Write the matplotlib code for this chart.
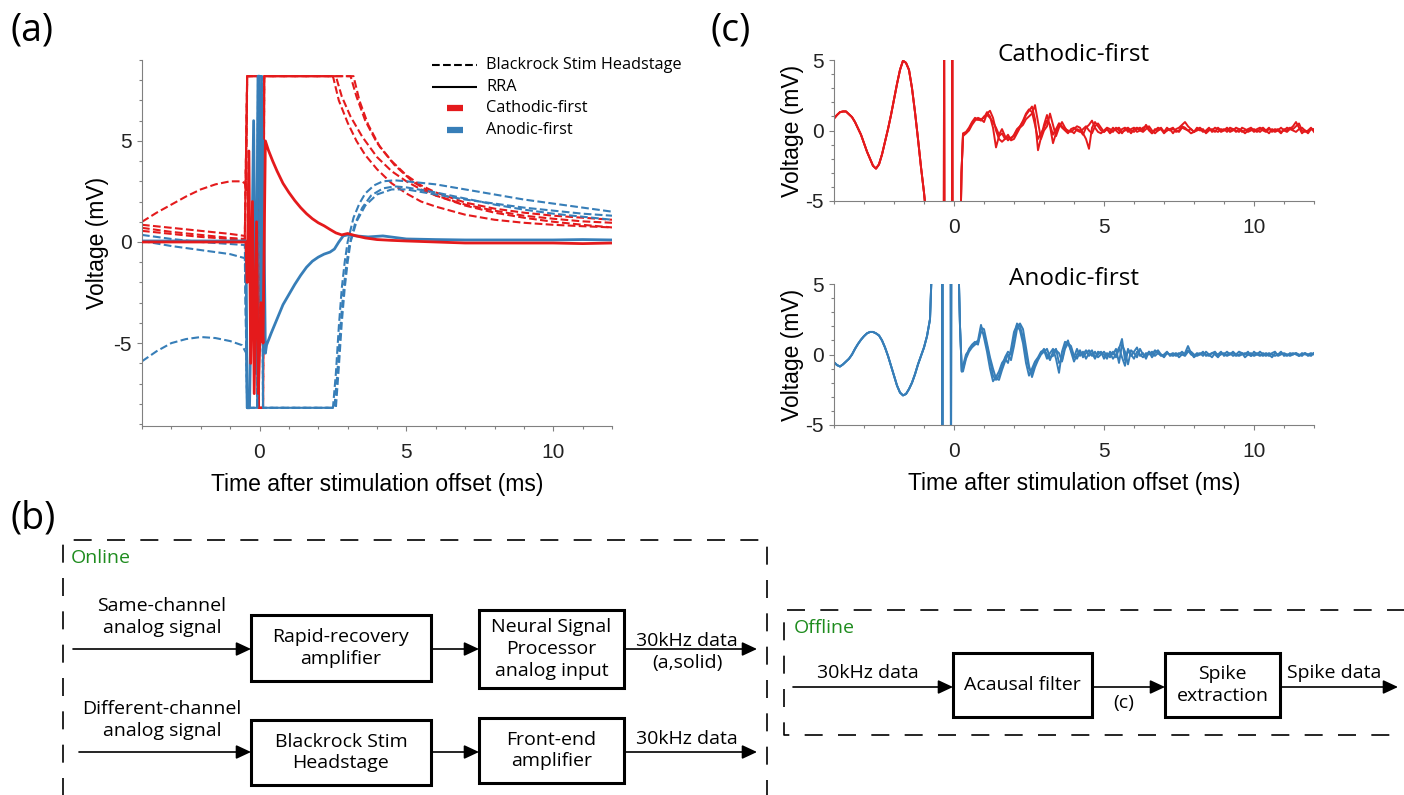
"""
Stimulation artifact recovery: RRA vs Blackrock headstage (a), processing chain (b),
acausal-filtered traces (c)
"""
import numpy as np
import matplotlib.pyplot as plt
from matplotlib.patches import Rectangle

plt.rcParams['font.family'] = ['Liberation Sans', 'DejaVu Sans']
plt.rcParams['axes.unicode_minus'] = False

RED = '#E41A1C'
BLUE = '#377EB8'
GREY = '#808080'
SIDE_FONT = ['Open Sans', 'DejaVu Sans']

# ---------------- (a) data, ms / mV ----------------
rra_cath_t = [-4.0, -0.46, -0.42, -0.36, -0.3, -0.24, -0.18, -0.1, -0.04, 0.05,
              0.12, 0.2, 0.3, 0.45, 0.6, 0.8, 1.0, 1.2, 1.4, 1.6,
              1.8, 2.0, 2.2, 2.4, 2.6, 2.8, 3.0, 3.1, 3.3, 3.6,
              4.0, 4.5, 5.0, 6.0, 7.0, 8.0, 9.0, 10.0, 11.0, 12.0]
rra_cath_v = [0.0, 0.0, -2.0, 4.5, -6.0, 2.0, -7.5, 1.0, -7.5, -3.0,
              -5.0, 5.0, 4.55, 4.0, 3.5, 2.9, 2.45, 2.05, 1.7, 1.4,
              1.15, 0.95, 0.8, 0.62, 0.45, 0.35, 0.42, 0.38, 0.3, 0.2,
              0.12, 0.08, 0.05, 0.0, -0.05, -0.05, -0.05, -0.05, -0.08, -0.05]
rra_anod_t = [-4.0, -0.46, -0.42, -0.34, -0.28, -0.2, -0.12, -0.05, 0.0, 0.05,
              0.12, 0.2, 0.24, 0.4, 0.6, 0.8, 1.0, 1.2, 1.4, 1.6,
              1.8, 2.0, 2.2, 2.4, 2.55, 2.7, 2.85, 3.0, 3.3, 3.7,
              4.2, 5.0, 6.0, 7.0, 8.0, 9.0, 10.0, 11.0, 12.0]
rra_anod_v = [0.05, 0.05, -8.2, -8.2, -3.0, 6.0, -6.5, 8.2, 8.2, -3.0,
              5.0, -5.5, -5.1, -4.5, -3.8, -3.1, -2.6, -2.1, -1.65, -1.25,
              -0.95, -0.75, -0.6, -0.5, -0.35, 0.0, 0.3, 0.35, 0.3, 0.25,
              0.3, 0.15, 0.12, 0.1, 0.1, 0.1, 0.1, 0.12, 0.1]

br_cath1_t = [-4.0, -3.5, -3.0, -2.5, -2.0, -1.5, -1.0, -0.6, -0.5, -0.45,
              -0.42, -0.05, -0.02, 0.12, 0.16, 2.5, 2.7, 3.0, 3.3, 3.6,
              4.0, 4.5, 5.0, 5.5, 6.0, 7.0, 8.0, 9.0, 10.0, 11.0, 12.0]
br_cath1_v = [1.0, 1.45, 1.85, 2.25, 2.6, 2.85, 3.0, 3.0, 2.9, 2.5,
              8.2, 8.2, -8.2, -8.2, 8.2, 8.2, 7.0, 5.9, 5.0, 4.3,
              3.6, 2.9, 2.4, 2.0, 1.75, 1.35, 1.1, 0.95, 0.85, 0.78, 0.72]
br_cath2_t = [-4.0, -3.0, -2.0, -1.0, -0.5, -0.42, -0.05, -0.02, 0.12, 0.16,
              2.6, 2.8, 3.1, 3.5, 4.0, 4.5, 5.0, 5.5, 6.0, 7.0,
              8.0, 9.0, 10.0, 11.0, 12.0]
br_cath2_v = [0.85, 0.7, 0.55, 0.4, 0.3, 8.2, 8.2, -8.2, -8.2, 8.2,
              8.2, 7.2, 6.2, 5.2, 4.2, 3.5, 3.0, 2.6, 2.3, 1.85,
              1.55, 1.3, 1.15, 1.02, 0.95]
br_cath3_t = [-4.0, -3.0, -2.0, -1.0, -0.5, -0.42, -0.05, -0.02, 0.12, 0.16,
              3.1, 3.3, 3.6, 4.0, 4.5, 5.0, 5.5, 6.0, 7.0, 8.0,
              9.0, 10.0, 11.0, 12.0]
br_cath3_v = [0.55, 0.4, 0.25, 0.15, 0.1, 8.2, 8.2, -8.2, -8.2, 8.2,
              8.2, 7.2, 6.0, 4.9, 4.0, 3.3, 2.8, 2.45, 1.95, 1.65,
              1.45, 1.3, 1.2, 1.1]
br_cath4_t = [-4.0, -3.0, -2.0, -1.0, -0.5, -0.42, -0.05, -0.02, 0.12, 0.16,
              3.2, 3.4, 3.7, 4.1, 4.6, 5.2, 6.0, 7.0, 8.0, 9.0,
              10.0, 11.0, 12.0]
br_cath4_v = [0.7, 0.5, 0.35, 0.2, 0.15, 8.2, 8.2, -8.2, -8.2, 8.2,
              8.2, 7.0, 5.8, 4.7, 3.8, 3.0, 2.3, 1.8, 1.45, 1.2,
              1.0, 0.85, 0.72]

br_anod1_t = [-4.0, -3.5, -3.0, -2.5, -2.0, -1.5, -1.0, -0.6, -0.45, -0.42,
              -0.08, -0.05, 0.08, 0.12, 2.5, 2.6, 2.7, 2.8, 2.9, 3.0,
              3.2, 3.4, 3.6, 3.9, 4.2, 4.6, 5.0, 6.0, 7.0, 8.0,
              9.0, 10.0, 11.0, 12.0]
br_anod1_v = [-5.9, -5.4, -5.0, -4.8, -4.7, -4.75, -4.9, -5.1, -5.5, -8.2,
              -8.2, 8.2, 8.2, -8.2, -8.2, -6.5, -4.2, -2.3, -1.0, 0.0,
              1.2, 1.9, 2.4, 2.8, 3.0, 3.05, 3.0, 2.85, 2.6, 2.35,
              2.1, 1.9, 1.7, 1.5]
br_anod2_t = [-4.0, -3.0, -2.0, -1.0, -0.5, -0.42, -0.08, -0.05, 0.08, 0.12,
              2.55, 2.65, 2.75, 2.85, 2.95, 3.05, 3.25, 3.5, 3.8, 4.2,
              4.6, 5.0, 6.0, 7.0, 8.0, 9.0, 10.0, 11.0, 12.0]
br_anod2_v = [0.35, 0.15, 0.0, -0.1, -0.15, -8.2, -8.2, 8.2, 8.2, -8.2,
              -8.2, -6.5, -4.3, -2.5, -1.2, -0.2, 0.9, 1.7, 2.3, 2.65,
              2.75, 2.7, 2.45, 2.15, 1.85, 1.6, 1.4, 1.25, 1.1]
br_anod3_t = [-4.0, -3.0, -2.0, -1.0, -0.5, -0.42, -0.08, -0.05, 0.08, 0.12,
              2.6, 2.7, 2.8, 2.9, 3.0, 3.1, 3.3, 3.6, 4.0, 4.5,
              5.0, 6.0, 7.0, 8.0, 9.0, 10.0, 11.0, 12.0]
br_anod3_v = [0.05, -0.2, -0.4, -0.6, -0.8, -8.2, -8.2, 8.2, 8.2, -8.2,
              -8.2, -6.2, -4.0, -2.3, -1.0, 0.0, 1.0, 1.8, 2.35, 2.6,
              2.6, 2.35, 2.1, 1.9, 1.7, 1.55, 1.4, 1.3]

# ---------------- (c) data, ms / mV ----------------
cath_pre_t = np.round(np.arange(-4.0, -0.95, 0.1), 1)
cath_pre_v = [0.85, 1.1, 1.3, 1.35, 1.35, 1.15, 0.95, 0.6, 0.15, -0.3,
              -0.9, -1.5, -2.0, -2.5, -2.7, -2.4, -1.7, -0.8, 0.1, 1.1,
              2.2, 3.3, 4.3, 4.95, 4.8, 4.3, 3.0, 1.3, -0.6, -2.6, -4.4]
cath_art_t = [-0.95, -0.85, -0.6, -0.34, -0.33, -0.32, -0.07, -0.06, -0.05, 0.2, 0.25]
cath_art_v = [-5.5, -7.5, -9.0, -9.0, 9.0, -9.0, -9.0, 9.0, -9.0, -9.0, -3.0]

post_t = np.round(np.arange(0.3, 12.05, 0.1), 1)
cath_post_a = [-0.3, -0.2, 0.1, 0.5, 0.8, 0.75, 0.8, 0.9, 1.3, 1.0,
               0.2, -1.2, -0.4, -0.2, -0.6, -0.5, -0.6, -0.3, 0.1, 0.3,
               0.6, 1.1, 1.4, 1.7, 0.8, -1.4, -0.5, 0.4, 1.1, 0.3,
               -0.9, -0.2, 0.5, 0.3, 0.1, 0.0, -0.1, 0.1, 0.3, 0.2,
               -0.2, -0.6, -1.3, 0.2, 0.6, 0.3, 0.0, -0.1, 0.1, -0.1,
               0.2, 0.0, -0.2, 0.1, 0.2, -0.1, 0.1, 0.2, -0.1, 0.0,
               0.2, 0.3, 0.0, -0.2, 0.1, 0.0, 0.2, -0.1, 0.0, 0.1,
               -0.2, 0.1, 0.2, 0.4, 0.6, 0.3, 0.1, -0.1, 0.0, 0.1,
               -0.1, 0.0, 0.2, -0.1, 0.0, -0.1, 0.1, 0.0, 0.2, 0.0,
               0.1, -0.1, 0.1, 0.0, -0.2, 0.0, 0.1, -0.1, 0.1, 0.2,
               0.0, -0.1, 0.1, 0.0, -0.1, 0.0, 0.2, 0.0, -0.1, 0.1,
               0.3, 0.6, 0.2, -0.2, 0.0, -0.1, 0.1, 0.1]
cath_post_b = [-0.2, -0.1, 0.2, 0.6, 0.9, 0.8, 0.7, 1.0, 1.1, 0.9,
               0.6, 0.2, -0.3, 0.1, -0.4, -0.7, -0.5, -0.4, 0.0, 0.3,
               0.7, 1.2, 1.5, 1.3, 0.4, -0.6, -0.2, 0.2, 0.7, 0.4,
               -0.3, 0.1, 0.5, 0.2, 0.0, -0.2, 0.1, 0.2, 0.0, -0.1,
               0.1, 0.3, 0.0, -0.2, 0.3, 0.5, 0.2, -0.1, 0.1, -0.2,
               0.0, 0.1, 0.2, -0.1, 0.0, 0.1, -0.2, 0.1, 0.2, 0.0,
               -0.1, 0.1, 0.3, 0.0, -0.2, 0.0, 0.1, -0.1, 0.2, 0.0,
               0.1, 0.0, -0.1, 0.2, 0.1, 0.0, -0.2, -0.1, 0.1, 0.2,
               0.0, -0.1, 0.1, 0.0, 0.2, 0.1, -0.1, 0.0, 0.1, -0.1,
               0.0, 0.2, 0.1, -0.1, 0.0, 0.1, 0.2, 0.0, -0.1, 0.1,
               0.2, 0.0, -0.2, 0.1, 0.0, 0.1, -0.1, 0.0, 0.2, 0.1,
               0.0, -0.1, 0.1, 0.2, 0.0, -0.2, 0.1, 0.0]
cath_post_c = [-0.4, -0.2, 0.0, 0.4, 0.7, 0.9, 0.8, 0.6, 1.2, 1.4,
               0.9, 0.0, -0.6, -0.8, -0.6, -0.3, -0.7, -0.6, -0.2, 0.2,
               0.4, 0.8, 1.0, 1.2, 1.8, 0.6, -0.6, 0.0, 0.3, 1.2,
               0.4, -0.4, 0.2, 0.6, 0.2, -0.1, 0.0, -0.2, 0.1, 0.0,
               -0.3, 0.2, 0.4, 0.7, 0.2, -0.1, -0.2, 0.0, 0.2, 0.1,
               -0.1, 0.2, 0.0, -0.2, 0.1, 0.2, 0.0, -0.1, 0.1, 0.2,
               0.0, 0.4, 0.1, -0.2, 0.0, 0.2, 0.1, -0.2, 0.0, 0.1,
               0.2, -0.1, 0.0, 0.3, 0.2, 0.0, 0.1, -0.1, 0.2, 0.0,
               0.1, -0.2, 0.0, 0.1, -0.1, 0.2, 0.0, 0.1, -0.1, 0.2,
               0.1, 0.0, -0.1, 0.2, 0.1, -0.1, 0.0, 0.1, 0.0, -0.1,
               0.1, 0.0, 0.2, -0.1, 0.1, 0.0, -0.2, 0.1, 0.0, 0.2,
               0.1, 0.3, 0.5, 0.0, -0.1, 0.0, 0.2, -0.1]

anod_pre_t = np.round(np.arange(-4.0, -0.75, 0.1), 1)
anod_pre_v = [-0.55, -0.75, -0.85, -0.7, -0.5, -0.3, 0.0, 0.4, 0.75, 1.05,
              1.3, 1.5, 1.6, 1.6, 1.5, 1.35, 1.0, 0.5, -0.1, -0.8,
              -1.5, -2.2, -2.7, -2.9, -2.8, -2.45, -2.0, -1.4, -0.7, -0.1,
              0.5, 1.3, 2.5]
anod_art_t = [-0.75, -0.7, -0.4, -0.39, -0.38, -0.11, -0.1, -0.09, 0.12, 0.2, 0.26]
anod_art_v = [5.5, 9.0, 9.0, -9.0, 9.0, 9.0, -9.0, 9.0, 9.0, 2.0, -1.2]
anod_post_a = [-0.8, 0.0, 0.3, 0.6, 0.8, 1.0, 2.1, 1.2, 0.2, -1.0,
               -1.9, -1.6, -1.2, -0.6, -0.3, -0.6, 0.4, 1.6, 2.1, 1.7,
               0.8, -0.6, -1.5, -1.0, -0.5, -0.2, 0.2, 0.3, -0.3, 0.1,
               0.4, -0.3, -1.3, 0.2, 0.9, 0.8, 0.3, -0.2, 0.4, -0.1,
               0.2, -0.3, 0.1, 0.3, -0.2, 0.0, 0.2, -0.3, 0.1, -0.2,
               0.2, -0.2, 0.4, 1.1, -0.4, 0.3, -0.1, 0.2, 0.5, -0.1,
               0.1, -0.3, 0.2, 0.0, 0.3, 0.1, -0.1, 0.0, 0.2, -0.1,
               0.0, 0.1, -0.2, 0.0, 0.1, 0.6, 0.1, -0.2, 0.0, 0.1,
               -0.1, 0.2, 0.0, -0.2, 0.1, 0.0, 0.2, -0.1, 0.0, 0.1,
               -0.1, 0.0, 0.2, 0.1, -0.2, 0.0, 0.1, -0.1, 0.0, 0.2,
               0.0, -0.1, 0.1, 0.0, -0.1, 0.0, 0.1, 0.0, -0.1, 0.1,
               0.0, 0.1, -0.1, 0.0, 0.1, -0.1, 0.0, 0.1]
anod_post_b = [-1.2, -0.3, 0.2, 0.5, 0.7, 0.8, 1.6, 1.5, 0.6, -0.4,
               -1.5, -1.8, -1.5, -0.9, -0.2, 0.2, 0.0, 1.2, 2.2, 2.0,
               1.2, 0.0, -1.0, -1.3, -0.6, -0.3, 0.1, 0.4, 0.0, -0.4,
               0.2, 0.4, -0.6, -0.4, 0.6, 1.0, 0.2, -0.5, 0.0, 0.3,
               -0.2, 0.1, 0.3, -0.1, 0.2, -0.2, 0.0, 0.2, -0.1, 0.1,
               -0.3, 0.0, 0.5, -0.2, -0.8, 0.4, 0.0, -0.3, 0.2, 0.0,
               -0.2, 0.1, 0.0, 0.2, -0.1, 0.1, 0.0, -0.2, 0.1, 0.0,
               0.1, -0.1, 0.0, 0.2, 0.0, 0.3, 0.0, -0.1, 0.1, 0.0,
               0.1, 0.0, -0.1, 0.1, 0.0, -0.2, 0.1, 0.0, 0.2, 0.0,
               0.1, -0.1, 0.0, 0.1, 0.0, 0.2, -0.1, 0.0, 0.1, 0.0,
               -0.1, 0.1, 0.0, -0.2, 0.1, 0.0, 0.2, -0.1, 0.0, 0.0,
               0.1, 0.0, -0.1, 0.1, 0.0, 0.0, -0.1, 0.1]
anod_post_c = [-1.0, -0.2, 0.4, 0.7, 0.9, 0.7, 1.9, 1.8, 0.8, -0.2,
               -1.0, -1.7, -1.8, -1.1, -0.5, 0.0, -0.4, 0.6, 1.8, 2.2,
               1.8, 0.5, -0.8, -1.6, -0.9, -0.4, 0.0, 0.2, 0.4, -0.2,
               -0.1, 0.3, 0.1, -0.5, 0.4, 0.8, 0.6, -0.1, -0.3, 0.2,
               0.0, 0.3, -0.1, 0.1, -0.3, 0.2, 0.1, 0.0, -0.3, 0.2,
               0.0, 0.4, -0.6, 0.7, 0.2, -0.7, 0.3, 0.1, -0.2, 0.4,
               0.0, -0.1, 0.2, -0.2, 0.1, 0.3, 0.0, -0.1, 0.1, 0.0,
               -0.1, 0.0, 0.1, 0.0, -0.1, 0.2, 0.2, 0.0, -0.1, 0.0,
               0.2, -0.1, 0.0, 0.1, 0.2, -0.1, 0.0, 0.1, -0.1, 0.0,
               0.2, 0.0, -0.1, 0.0, 0.1, 0.0, -0.1, 0.2, 0.0, -0.1,
               0.1, 0.0, -0.1, 0.1, 0.2, -0.1, 0.0, 0.1, 0.0, -0.1,
               0.0, 0.1, 0.0, -0.1, 0.1, 0.0, 0.1, 0.0]


def style_axes(ax, ylim, yminor):
    for s in ['top', 'right']:
        ax.spines[s].set_visible(False)
    for s in ['left', 'bottom']:
        ax.spines[s].set_color(GREY)
        ax.spines[s].set_linewidth(0.8)
    ax.set_xlim(-4, 12)
    ax.set_ylim(*ylim)
    ax.set_xticks([0, 5, 10])
    ax.set_xticks(np.arange(-4, 13), minor=True)
    ax.set_yticks([-5, 0, 5])
    ax.set_yticks(yminor, minor=True)
    ax.tick_params(which='both', direction='out', color=GREY, width=0.8,
                   labelsize=15, labelcolor='#222222')
    ax.tick_params(which='major', length=3.5)
    ax.tick_params(which='minor', length=2.5)
    ax.tick_params(axis='x', which='both', pad=9)
    ax.tick_params(axis='y', which='both', pad=4)


fig = plt.figure(figsize=(14.04, 7.95), dpi=100)
W, H = 1404.0, 795.0

# ---------------- (a) ----------------
ax_a = fig.add_axes([142 / W, (H - 426) / H, 470 / W, 366 / H])
style_axes(ax_a, (-9.1, 9), np.arange(-9, 10))
for t, v in [(br_cath1_t, br_cath1_v), (br_cath2_t, br_cath2_v),
             (br_cath3_t, br_cath3_v), (br_cath4_t, br_cath4_v)]:
    ax_a.plot(t, v, '--', color=RED, lw=1.5, zorder=2)
for t, v in [(br_anod1_t, br_anod1_v), (br_anod2_t, br_anod2_v),
             (br_anod3_t, br_anod3_v)]:
    ax_a.plot(t, v, '--', color=BLUE, lw=1.5, zorder=2)
ax_a.plot(rra_anod_t, rra_anod_v, color=BLUE, lw=2, zorder=3)
ax_a.plot(rra_cath_t, rra_cath_v, color=RED, lw=2, zorder=3)
ax_a.set_xlabel('Time after stimulation offset (ms)', fontsize=16.5, labelpad=8)
ax_a.set_ylabel('Voltage (mV)', fontsize=16.5, labelpad=3)

# ---------------- (c) ----------------
ax_c1 = fig.add_axes([834 / W, (H - 201) / H, 480 / W, 141 / H])
ax_c2 = fig.add_axes([834 / W, (H - 425) / H, 480 / W, 141 / H])
for ax, pre_t, pre_v, art_t, art_v, posts, col, title in [
        (ax_c1, cath_pre_t, cath_pre_v, cath_art_t, cath_art_v,
         [cath_post_a, cath_post_b, cath_post_c], RED, 'Cathodic-first'),
        (ax_c2, anod_pre_t, anod_pre_v, anod_art_t, anod_art_v,
         [anod_post_a, anod_post_b, anod_post_c], BLUE, 'Anodic-first')]:
    style_axes(ax, (-5, 5), np.arange(-5, 6))
    for post in posts:
        t = np.concatenate([pre_t, art_t, post_t])
        v = np.concatenate([pre_v, art_v, post])
        ax.plot(t, v, color=col, lw=1.4)
    ax.set_ylabel('Voltage (mV)', fontsize=16.5, labelpad=1)
    # title sits just on the top edge of the axes
    ax.text(0.5, 0.99, title, transform=ax.transAxes, fontsize=17.5,
            family=SIDE_FONT, ha='center', va='baseline')
ax_c2.set_xlabel('Time after stimulation offset (ms)', fontsize=16.5, labelpad=8)

# ---------------- overlay: panel letters, legend, (b) diagram ----------------
ov = fig.add_axes([0, 0, 1, 1])
ov.set_xlim(0, W)
ov.set_ylim(H, 0)
ov.axis('off')
ov.patch.set_alpha(0)

for lbl, x, y in [('(a)', 10, 31), ('(c)', 710, 31), ('(b)', 10, 519)]:
    ov.text(x, y, lbl, fontsize=27, family=SIDE_FONT, ha='left', va='center')

# legend of (a)
leg_items = [('Blackrock Stim Headstage', 'k', '--', 1.5, 432, 477),
             ('RRA', 'k', '-', 1.5, 432, 477),
             ('Cathodic-first', RED, '-', 4.5, 447, 463),
             ('Anodic-first', BLUE, '-', 4.5, 447, 463)]
for i, (txt, col, ls, lw, x0, x1) in enumerate(leg_items):
    y = 65 + i * 21.7
    ov.plot([x0, x1], [y, y], color=col, ls=ls, lw=lw, solid_capstyle='butt')
    ov.text(486, y, txt, fontsize=11.7, family=SIDE_FONT, ha='left', va='center')

# dashed group frames
box_ls = (0, (10.8, 9.2))
ov.plot([63, 63, 767, 767], [800, 540, 540, 800], color='k', lw=1.2, ls=box_ls)
ov.plot([1410, 784, 784, 1410], [610, 610, 735, 735], color='k', lw=1.2, ls=box_ls)
ov.text(71, 558, 'Online', fontsize=14, family=SIDE_FONT, color='#1E8C1E',
        ha='left', va='center')
ov.text(794, 628, 'Offline', fontsize=14, family=SIDE_FONT, color='#1E8C1E',
        ha='left', va='center')

blocks = [(251, 615, 431, 681, 'Rapid-recovery\namplifier'),
          (479, 610, 624, 688, 'Neural Signal\nProcessor\nanalog input'),
          (251, 720, 431, 785, 'Blackrock Stim\nHeadstage'),
          (479, 718, 624, 783, 'Front-end\namplifier'),
          (953, 653, 1092, 717, 'Acausal filter'),
          (1165, 653, 1280, 717, 'Spike\nextraction')]
for x0, y0, x1, y1, txt in blocks:
    ov.add_patch(Rectangle((x0, y0), x1 - x0, y1 - y0, fill=False, lw=2.2,
                           ec='k'))
    ov.text((x0 + x1) / 2, (y0 + y1) / 2, txt, fontsize=14, family=SIDE_FONT,
            ha='center', va='center', linespacing=1.25)

arrows = [(73, 251, 649), (431, 479, 649), (624, 757, 649),
          (79, 251, 752), (431, 479, 752), (624, 757, 752),
          (793, 953, 687), (1092, 1165, 687), (1280, 1398, 687)]
for x0, x1, y in arrows:
    ov.annotate('', xy=(x1, y), xytext=(x0, y),
                arrowprops=dict(arrowstyle='-|>,head_length=0.9,head_width=0.42',
                                lw=1.2, color='k', shrinkA=0, shrinkB=0))

labels = [(162, 617, 'Same-channel\nanalog signal'),
          (162, 720, 'Different-channel\nanalog signal'),
          (687, 652, '30kHz data\n(a,solid)'),
          (687, 739, '30kHz data'),
          (868, 673, '30kHz data'),
          (1124, 703, '(c)'),
          (1334, 673, 'Spike data')]
for x, y, txt in labels:
    ov.text(x, y, txt, fontsize=14, family=SIDE_FONT, ha='center', va='center',
            linespacing=1.25)

plt.savefig('out.png', dpi=100)
